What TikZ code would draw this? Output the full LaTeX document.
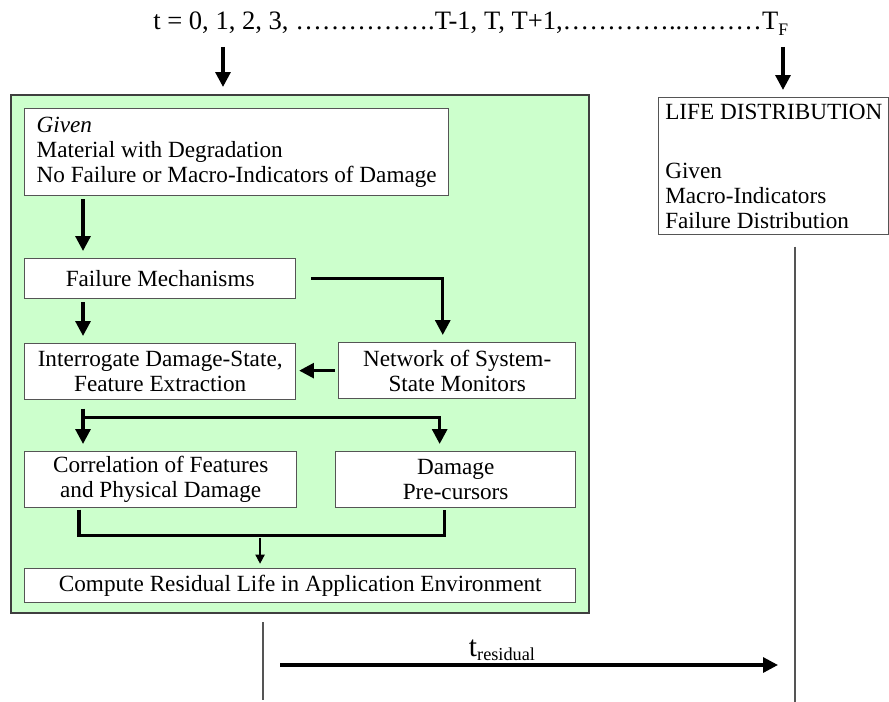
\documentclass[tikz,border=0pt]{standalone}
\usepackage{fontspec}
\setmainfont{Liberation Serif}
\usetikzlibrary{arrows.meta, positioning}
\definecolor{panelgreen}{HTML}{CCFFCC}
\definecolor{edgegray}{HTML}{555555}
\definecolor{panelgray}{HTML}{3F3F3F}

\begin{document}
\begin{tikzpicture}[
  x=0.025cm, y=-0.025cm,
  blk/.style={rectangle, draw=edgegray, fill=white, line width=0.9pt,
              anchor=north west, inner sep=0pt, align=center,
              minimum height=1.4cm, font=\fontsize{16.5}{17.8}\selectfont},
  panel/.style={rectangle, draw=panelgray, fill=panelgreen, line width=1.3pt,
                anchor=north west, inner sep=0pt},
  arr/.style={-{Triangle[length=10.5pt, width=10.5pt]}, line width=2.3pt,
              shorten >=5pt},
  bar/.style={line width=2.3pt},
  thinarr/.style={-{Triangle[length=6.5pt, width=6.5pt]}, line width=1.2pt,
                  shorten >=3pt},
  tick/.style={draw=edgegray, line width=0.8pt},
]
  \useasboundingbox (0,0) rectangle (889,702);

  % time axis along the top
  \node[font=\fontsize{18.9}{21}\selectfont, anchor=base west, inner sep=0pt] (tline) at (153,30)
    {t = 0, 1, 2, 3, …………….T-1, T, T+1,…………..………T\raisebox{-0.45ex}{\fontsize{12.5}{12.5}\selectfont F}};
  \coordinate (t0) at (223,47);
  \coordinate (tF) at (783,47);

  % monitoring panel
  \node[panel, minimum width=14.45cm, minimum height=12.95cm] (env) at (10,94) {};

  \node[blk, align=left, minimum width=10.6cm, minimum height=2.175cm] (given) at (24,108)
    {\textit{Given}\\Material with Degradation\\No Failure or Macro-Indicators of Damage};
  \node[blk, minimum width=6.775cm, minimum height=1cm] (fm) at (24,258) {Failure Mechanisms};
  \node[blk, minimum width=6.775cm] (intr) at (24,343) {Interrogate Damage-State,\\Feature Extraction};
  \node[blk, minimum width=5.925cm] (net) at (338,342) {Network of System-\\State Monitors};
  \node[blk, minimum width=6.8cm] (corr) at (24,451) {Correlation of Features\\and Physical Damage};
  \node[blk, minimum width=6cm] (dmg) at (335,451) {Damage\\Pre-cursors};
  \node[blk, minimum width=13.775cm, minimum height=0.85cm] (comp) at (24,568)
    {Compute Residual Life in Application Environment};

  % life distribution at T_F
  \node[blk, align=left, minimum width=5.76cm, minimum height=3.425cm] (life) at (658,97)
    {LIFE DISTRIBUTION\\[24pt]Given\\Macro-Indicators\\Failure Distribution};

  \draw[arr] (t0) -- (t0 |- env.north);
  \draw[arr] (tF) -- (tF |- life.north);

  \draw[arr] ([xshift=1.475cm,yshift=-2pt]given.south west) -- ([xshift=1.475cm]fm.north west);
  \draw[arr] ([xshift=0.375cm]fm.east) -| ([xshift=-0.36cm]net.north);
  \draw[arr] ([xshift=1.475cm,yshift=-2pt]fm.south west) -- ([xshift=1.475cm]intr.north west);
  \draw[arr, shorten >=2pt] ([xshift=-2pt]net.west) -- (net.west -| intr.east);

  \coordinate (split) at ([xshift=1.475cm,yshift=-0.425cm]intr.south west);
  \draw[arr] ([xshift=1.475cm,yshift=-6pt]intr.south west) -- ([xshift=1.475cm]corr.north west);
  \draw[arr] (split) -| ([xshift=-0.4cm]dmg.north);

  \draw[bar] ([xshift=1.375cm,yshift=-1pt]corr.south west) -- ++(0,26)
    -| ([xshift=-0.275cm,yshift=-1pt]dmg.south);
  \draw[thinarr] ([xshift=5.9cm,yshift=0.75cm]comp.north west) -- ([xshift=5.9cm]comp.north west);

  % residual life below
  \coordinate (rl) at (263,622);
  \draw[tick] (rl) -- ++(0,78);
  \draw[tick] ([xshift=3.425cm,yshift=-8pt]life.south west) -- ++(0,455);

  \coordinate (r0) at (280,665);
  \coordinate (r1) at (785,665);
  \draw[arr] (r0) -- (r1);
  \node[anchor=base, inner sep=0pt, font=\fontsize{21}{24}\selectfont] (tres) at (502,656)
    {t\raisebox{-0.3ex}{\fontsize{13}{13}\selectfont residual}};
\end{tikzpicture}
\end{document}
